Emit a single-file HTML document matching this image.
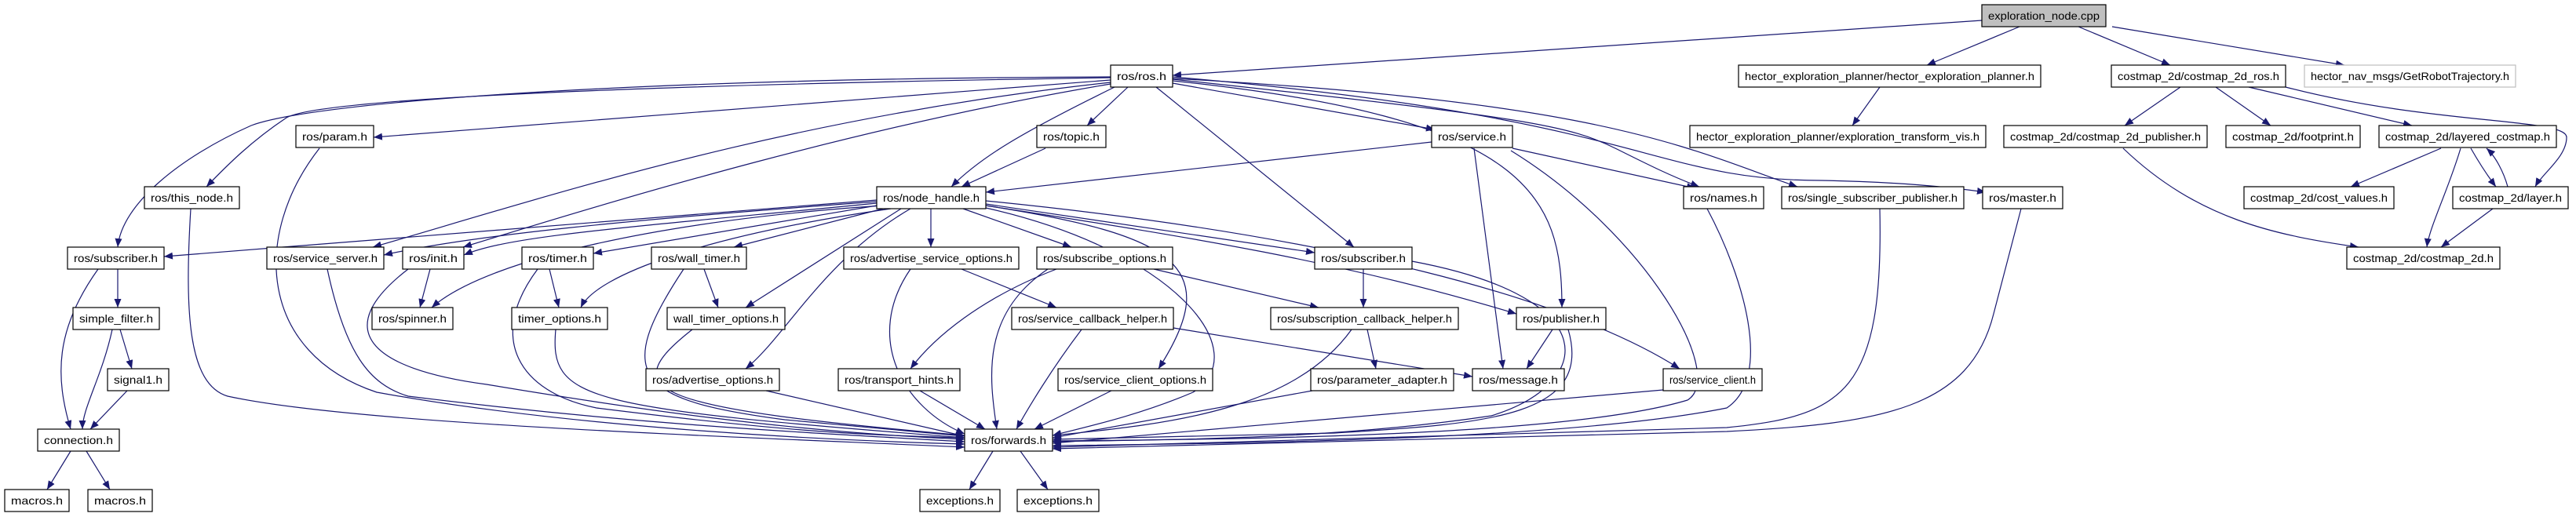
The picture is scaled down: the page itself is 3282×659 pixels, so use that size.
<!DOCTYPE html>
<html><head><meta charset="utf-8"><style>
html,body{margin:0;padding:0;background:#fff;}
svg{display:block;}
.n rect{fill:#fff;stroke:#000;stroke-width:1.2;}
.n text{font-family:"Liberation Sans",sans-serif;font-size:14px;fill:#000;}
.e path{fill:none;stroke:#191970;stroke-width:1.2;}
</style></head><body>
<svg width="3282" height="659" viewBox="0 0 3282 659" xmlns="http://www.w3.org/2000/svg">
<defs><marker id="a" markerUnits="userSpaceOnUse" markerWidth="12" markerHeight="10" refX="11" refY="4.5" orient="auto"><path d="M0,0 L11,4.5 L0,9 z" fill="#191970"/></marker></defs>
<g class="e" marker-end="url(#a)">
<path d="M2525 26 L1494 96"/>
<path d="M2573 34 L2455 83"/>
<path d="M2648 34 L2765 83"/>
<path d="M2691 34 L2987 83"/>
<path d="M2395 111 L2360 160"/>
<path d="M2778 111 L2707 160"/>
<path d="M2823 111 L2893 160"/>
<path d="M2865 111 L3073 160"/>
<path d="M2912 111 C3100 160 3270 150 3270 175 C3270 200 3240 220 3230 238"/>
<path d="M3110 189 L2995 238"/>
<path d="M3135 189 C3120 240 3095 290 3092 315"/>
<path d="M3148 189 C3160 210 3170 225 3180 238"/>
<path d="M3195 238 C3190 220 3180 200 3168 189"/>
<path d="M3176 266 L3110 315"/>
<path d="M2705 189 C2800 280 2900 300 3005 315"/>
<path d="M1415 98 C800 100 400 130 320 160 C230 200 155 260 150 315"/>
<path d="M1415 99 C700 110 400 130 365 150 C320 180 290 210 263 238"/>
<path d="M1415 102 L476 175"/>
<path d="M1415 105 C1000 150 700 250 475 315"/>
<path d="M1415 107 C1100 160 800 250 590 315"/>
<path d="M1420 111 C1300 170 1250 200 1212 238"/>
<path d="M1437 111 L1385 160"/>
<path d="M1473 111 L1725 315"/>
<path d="M1494 106 L1828 165"/>
<path d="M1494 101 C1950 150 2000 160 2060 190 C2100 210 2130 225 2165 238"/>
<path d="M1494 100 C2050 130 2150 190 2290 238"/>
<path d="M1494 98 C2100 150 2100 230 2320 230 C2420 232 2480 238 2530 245"/>
<path d="M1494 103 C1950 150 1990 250 1990 392"/>
<path d="M1332 189 L1225 238"/>
<path d="M1824 181 L1256 245"/>
<path d="M1927 189 L2160 240"/>
<path d="M1878 189 L1915 470"/>
<path d="M1925 192 C2100 300 2200 480 2150 510 C2000 555 1600 560 1341 562"/>
<path d="M1117 255 L209 327"/>
<path d="M1117 257 C800 280 600 300 489 325"/>
<path d="M1117 259 C800 290 650 300 591 325"/>
<path d="M1125 262 C850 280 620 330 550 392"/>
<path d="M1117 262 L756 323"/>
<path d="M1125 266 L935 315"/>
<path d="M1135 266 C900 300 760 350 740 392"/>
<path d="M1148 266 L950 392"/>
<path d="M1160 266 C1050 330 1000 430 950 470"/>
<path d="M1186 266 L1186 315"/>
<path d="M1227 266 L1365 315"/>
<path d="M1256 262 C1500 300 1560 340 1476 470"/>
<path d="M1256 260 L1675 322"/>
<path d="M1256 262 C1500 300 1700 330 1932 400"/>
<path d="M1256 256 C1700 300 2000 380 2140 470"/>
<path d="M1256 265 C1500 320 1600 450 1520 500 C1450 530 1380 545 1341 555"/>
<path d="M125 343 C70 420 70 480 90 547"/>
<path d="M150 343 L150 392"/>
<path d="M143 420 C130 480 105 520 105 547"/>
<path d="M153 420 L168 470"/>
<path d="M162 498 L115 547"/>
<path d="M90 575 L60 624"/>
<path d="M110 575 L140 624"/>
<path d="M243 266 C235 400 240 490 290 505 C450 540 900 555 1229 570"/>
<path d="M407 189 C320 300 330 450 480 500 C700 540 1000 560 1229 566"/>
<path d="M417 343 C440 450 470 490 520 505 C800 540 1000 550 1229 563"/>
<path d="M548 343 L535 392"/>
<path d="M520 343 C420 420 470 470 620 490 C800 520 1000 550 1229 560"/>
<path d="M700 343 L712 392"/>
<path d="M685 343 C620 430 660 500 760 520 C1000 550 1100 555 1229 558"/>
<path d="M871 343 C780 480 810 510 1000 535 L1229 556"/>
<path d="M897 343 L915 392"/>
<path d="M708 420 C700 510 740 520 1229 558"/>
<path d="M882 420 C780 500 830 520 1229 555"/>
<path d="M976 498 L1229 556"/>
<path d="M1160 343 C1100 430 1150 520 1229 553"/>
<path d="M1225 343 L1346 392"/>
<path d="M1346 343 C1250 380 1190 430 1160 470"/>
<path d="M1335 343 C1250 400 1260 480 1270 547"/>
<path d="M1470 343 L1680 392"/>
<path d="M1495 418 L1876 480"/>
<path d="M1378 420 C1340 470 1310 520 1295 547"/>
<path d="M1172 498 L1255 547"/>
<path d="M1416 498 L1318 547"/>
<path d="M1737 343 L1737 392"/>
<path d="M1799 333 C2050 380 2030 490 1900 530 C1700 560 1500 560 1341 563"/>
<path d="M1722 420 C1650 520 1500 540 1341 555"/>
<path d="M1742 420 L1753 470"/>
<path d="M1672 498 L1341 558"/>
<path d="M1978 420 L1945 470"/>
<path d="M1998 420 C2030 530 1900 540 1700 552 L1341 560"/>
<path d="M2119 497 L1341 565"/>
<path d="M2175 266 C2220 350 2260 480 2200 520 C2000 560 1600 565 1341 568"/>
<path d="M2395 266 C2400 500 2350 530 2200 545 L1341 570"/>
<path d="M2575 266 L2540 400 C2510 520 2400 540 2200 550 L1341 572"/>
<path d="M1265 575 L1235 624"/>
<path d="M1300 575 L1335 624"/>
</g>
<g class="n">
<g><rect x="2525" y="6" width="158" height="28" style="fill:#bfbfbf"/><text x="2533" y="25" textLength="142" lengthAdjust="spacingAndGlyphs">exploration_node.cpp</text></g>
<g><rect x="2215" y="83" width="385" height="28"/><text x="2223" y="102" textLength="369" lengthAdjust="spacingAndGlyphs">hector_exploration_planner/hector_exploration_planner.h</text></g>
<g><rect x="2690" y="83" width="222" height="28"/><text x="2698" y="102" textLength="206" lengthAdjust="spacingAndGlyphs">costmap_2d/costmap_2d_ros.h</text></g>
<g><rect x="2936" y="83" width="269" height="28" style="stroke:#bfbfbf"/><text x="2944" y="102" textLength="253" lengthAdjust="spacingAndGlyphs">hector_nav_msgs/GetRobotTrajectory.h</text></g>
<g><rect x="2153" y="160" width="377" height="28"/><text x="2161" y="179" textLength="361" lengthAdjust="spacingAndGlyphs">hector_exploration_planner/exploration_transform_vis.h</text></g>
<g><rect x="2553" y="160" width="259" height="28"/><text x="2561" y="179" textLength="243" lengthAdjust="spacingAndGlyphs">costmap_2d/costmap_2d_publisher.h</text></g>
<g><rect x="2836" y="160" width="171" height="28"/><text x="2844" y="179" textLength="155" lengthAdjust="spacingAndGlyphs">costmap_2d/footprint.h</text></g>
<g><rect x="3031" y="160" width="226" height="28"/><text x="3039" y="179" textLength="210" lengthAdjust="spacingAndGlyphs">costmap_2d/layered_costmap.h</text></g>
<g><rect x="2859" y="238" width="191" height="28"/><text x="2867" y="257" textLength="175" lengthAdjust="spacingAndGlyphs">costmap_2d/cost_values.h</text></g>
<g><rect x="3125" y="238" width="147" height="28"/><text x="3133" y="257" textLength="131" lengthAdjust="spacingAndGlyphs">costmap_2d/layer.h</text></g>
<g><rect x="2526" y="238" width="102" height="28"/><text x="2534" y="257" textLength="86" lengthAdjust="spacingAndGlyphs">ros/master.h</text></g>
<g><rect x="2270" y="238" width="232" height="28"/><text x="2278" y="257" textLength="216" lengthAdjust="spacingAndGlyphs">ros/single_subscriber_publisher.h</text></g>
<g><rect x="2990" y="315" width="195" height="28"/><text x="2998" y="334" textLength="179" lengthAdjust="spacingAndGlyphs">costmap_2d/costmap_2d.h</text></g>
<g><rect x="1415" y="83" width="79" height="28"/><text x="1423" y="102" textLength="63" lengthAdjust="spacingAndGlyphs">ros/ros.h</text></g>
<g><rect x="1321" y="160" width="88" height="28"/><text x="1329" y="179" textLength="72" lengthAdjust="spacingAndGlyphs">ros/topic.h</text></g>
<g><rect x="1824" y="160" width="103" height="28"/><text x="1832" y="179" textLength="87" lengthAdjust="spacingAndGlyphs">ros/service.h</text></g>
<g><rect x="1117" y="238" width="139" height="28"/><text x="1125" y="257" textLength="123" lengthAdjust="spacingAndGlyphs">ros/node_handle.h</text></g>
<g><rect x="2145" y="238" width="102" height="28"/><text x="2153" y="257" textLength="86" lengthAdjust="spacingAndGlyphs">ros/names.h</text></g>
<g><rect x="1075" y="315" width="223" height="28"/><text x="1083" y="334" textLength="207" lengthAdjust="spacingAndGlyphs">ros/advertise_service_options.h</text></g>
<g><rect x="1321" y="315" width="173" height="28"/><text x="1329" y="334" textLength="157" lengthAdjust="spacingAndGlyphs">ros/subscribe_options.h</text></g>
<g><rect x="1675" y="315" width="124" height="28"/><text x="1683" y="334" textLength="108" lengthAdjust="spacingAndGlyphs">ros/subscriber.h</text></g>
<g><rect x="377" y="160" width="99" height="28"/><text x="385" y="179" textLength="83" lengthAdjust="spacingAndGlyphs">ros/param.h</text></g>
<g><rect x="184" y="238" width="121" height="28"/><text x="192" y="257" textLength="105" lengthAdjust="spacingAndGlyphs">ros/this_node.h</text></g>
<g><rect x="86" y="315" width="123" height="28"/><text x="94" y="334" textLength="107" lengthAdjust="spacingAndGlyphs">ros/subscriber.h</text></g>
<g><rect x="340" y="315" width="149" height="28"/><text x="348" y="334" textLength="133" lengthAdjust="spacingAndGlyphs">ros/service_server.h</text></g>
<g><rect x="513" y="315" width="78" height="28"/><text x="521" y="334" textLength="62" lengthAdjust="spacingAndGlyphs">ros/init.h</text></g>
<g><rect x="665" y="315" width="91" height="28"/><text x="673" y="334" textLength="75" lengthAdjust="spacingAndGlyphs">ros/timer.h</text></g>
<g><rect x="830" y="315" width="121" height="28"/><text x="838" y="334" textLength="105" lengthAdjust="spacingAndGlyphs">ros/wall_timer.h</text></g>
<g><rect x="93" y="392" width="110" height="28"/><text x="101" y="411" textLength="94" lengthAdjust="spacingAndGlyphs">simple_filter.h</text></g>
<g><rect x="137" y="470" width="78" height="28"/><text x="145" y="489" textLength="62" lengthAdjust="spacingAndGlyphs">signal1.h</text></g>
<g><rect x="48" y="547" width="104" height="28"/><text x="56" y="566" textLength="88" lengthAdjust="spacingAndGlyphs">connection.h</text></g>
<g><rect x="6" y="624" width="82" height="28"/><text x="14" y="643" textLength="66" lengthAdjust="spacingAndGlyphs">macros.h</text></g>
<g><rect x="112" y="624" width="82" height="28"/><text x="120" y="643" textLength="66" lengthAdjust="spacingAndGlyphs">macros.h</text></g>
<g><rect x="474" y="392" width="103" height="28"/><text x="482" y="411" textLength="87" lengthAdjust="spacingAndGlyphs">ros/spinner.h</text></g>
<g><rect x="652" y="392" width="122" height="28"/><text x="660" y="411" textLength="106" lengthAdjust="spacingAndGlyphs">timer_options.h</text></g>
<g><rect x="850" y="392" width="150" height="28"/><text x="858" y="411" textLength="134" lengthAdjust="spacingAndGlyphs">wall_timer_options.h</text></g>
<g><rect x="823" y="470" width="170" height="28"/><text x="831" y="489" textLength="154" lengthAdjust="spacingAndGlyphs">ros/advertise_options.h</text></g>
<g><rect x="1068" y="470" width="155" height="28"/><text x="1076" y="489" textLength="139" lengthAdjust="spacingAndGlyphs">ros/transport_hints.h</text></g>
<g><rect x="1289" y="392" width="206" height="28"/><text x="1297" y="411" textLength="190" lengthAdjust="spacingAndGlyphs">ros/service_callback_helper.h</text></g>
<g><rect x="1619" y="392" width="239" height="28"/><text x="1627" y="411" textLength="223" lengthAdjust="spacingAndGlyphs">ros/subscription_callback_helper.h</text></g>
<g><rect x="1932" y="392" width="114" height="28"/><text x="1940" y="411" textLength="98" lengthAdjust="spacingAndGlyphs">ros/publisher.h</text></g>
<g><rect x="1348" y="470" width="197" height="28"/><text x="1356" y="489" textLength="181" lengthAdjust="spacingAndGlyphs">ros/service_client_options.h</text></g>
<g><rect x="1670" y="470" width="182" height="28"/><text x="1678" y="489" textLength="166" lengthAdjust="spacingAndGlyphs">ros/parameter_adapter.h</text></g>
<g><rect x="1876" y="470" width="117" height="28"/><text x="1884" y="489" textLength="101" lengthAdjust="spacingAndGlyphs">ros/message.h</text></g>
<g><rect x="2119" y="470" width="126" height="28"/><text x="2127" y="489" textLength="110" lengthAdjust="spacingAndGlyphs">ros/service_client.h</text></g>
<g><rect x="1229" y="547" width="112" height="28"/><text x="1237" y="566" textLength="96" lengthAdjust="spacingAndGlyphs">ros/forwards.h</text></g>
<g><rect x="1172" y="624" width="102" height="28"/><text x="1180" y="643" textLength="86" lengthAdjust="spacingAndGlyphs">exceptions.h</text></g>
<g><rect x="1296" y="624" width="104" height="28"/><text x="1304" y="643" textLength="88" lengthAdjust="spacingAndGlyphs">exceptions.h</text></g>
</g>
</svg>
</body></html>
